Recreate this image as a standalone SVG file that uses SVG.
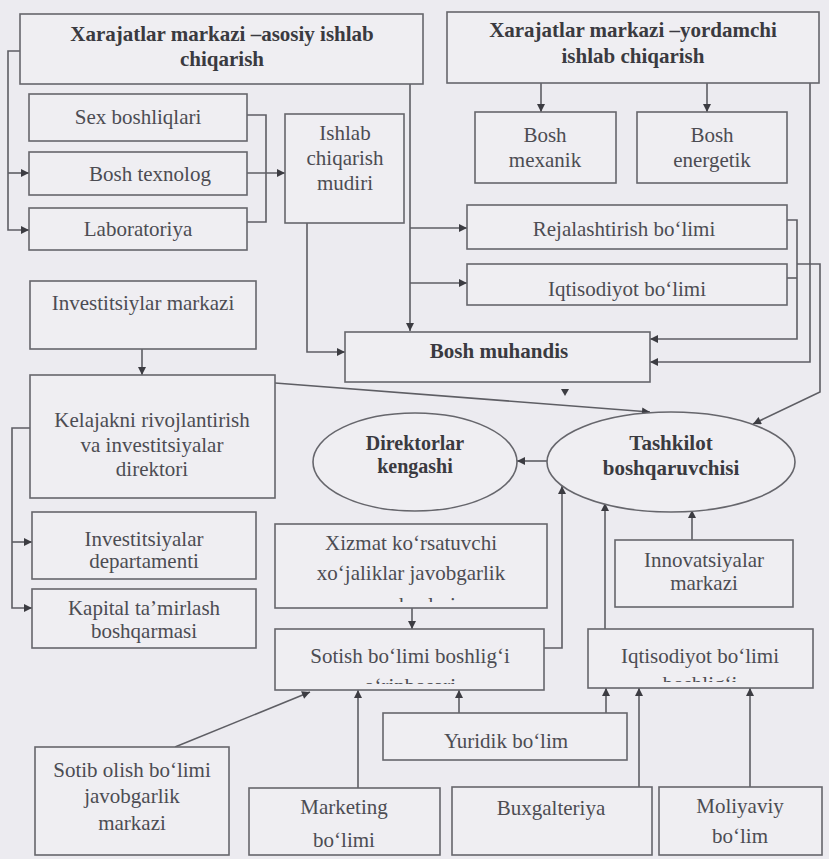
<svg xmlns="http://www.w3.org/2000/svg" width="829" height="859" viewBox="0 0 829 859">
<style>
.bg{fill:#ecebf0}
.box{fill:#efeef2;stroke:#66666c;stroke-width:1.6}
text{font-family:'Liberation Serif','Times New Roman',Times,serif;font-size:21px;text-anchor:middle}
.t{fill:#4c4c52}
.b{font-weight:bold;fill:#3a3a40}
.c{fill:none;stroke:#5e5e64;stroke-width:1.6}
</style>
<defs>
<marker id="ah" viewBox="0 0 10 10" refX="10" refY="5" markerWidth="9" markerHeight="8" orient="auto" markerUnits="userSpaceOnUse"><path d="M0,0 L10,5 L0,10 z" fill="#3c3c42"/></marker>
<clipPath id="clipX"><rect x="276" y="525" width="270" height="77"/></clipPath>
<clipPath id="clipS"><rect x="276" y="630" width="267" height="54"/></clipPath>
<clipPath id="clipI"><rect x="589" y="630" width="223" height="52"/></clipPath>
</defs>
<rect class="bg" x="0" y="0" width="829" height="859"/>

<g id="connectors">
<polyline class="c" points="20,51 8,51 8,230 29,230" marker-end="url(#ah)"/>
<polyline class="c" points="8,173 29,173" marker-end="url(#ah)"/>
<polyline class="c" points="247,115 266,115 266,222 247,222"/>
<polyline class="c" points="247,173 285,173" marker-end="url(#ah)"/>
<polyline class="c" points="410,84 410,331" marker-end="url(#ah)"/>
<polyline class="c" points="410,228 467,228" marker-end="url(#ah)"/>
<polyline class="c" points="410,283 467,283" marker-end="url(#ah)"/>
<polyline class="c" points="307,223 307,352 345,352" marker-end="url(#ah)"/>
<polyline class="c" points="541,83 541,112" marker-end="url(#ah)"/>
<polyline class="c" points="707,83 707,112" marker-end="url(#ah)"/>
<polyline class="c" points="787,220 797,220 797,339 650,339" marker-end="url(#ah)"/>
<polyline class="c" points="787,278 797,278"/>
<polyline class="c" points="810,83 810,362 650,362" marker-end="url(#ah)"/>
<polyline class="c" points="797,264 820,264 820,392 753,424" marker-end="url(#ah)"/>
<polyline class="c" points="275,383 650,412" marker-end="url(#ah)"/>
<path d="M561,389 L569,389 L565,396 z" fill="#3c3c42"/>
<polyline class="c" points="142,349 142,375" marker-end="url(#ah)"/>
<polyline class="c" points="30,428 12,428 12,608 32,608" marker-end="url(#ah)"/>
<polyline class="c" points="12,542 32,542" marker-end="url(#ah)"/>
<polyline class="c" points="547,461 517,461" marker-end="url(#ah)"/>
<polyline class="c" points="412,608 412,629" marker-end="url(#ah)"/>
<polyline class="c" points="544,648 562,648 562,486" marker-end="url(#ah)"/>
<polyline class="c" points="692,540 692,510" marker-end="url(#ah)"/>
<polyline class="c" points="605,629 605,503" marker-end="url(#ah)"/>
<polyline class="c" points="175,747 310,692" marker-end="url(#ah)"/>
<polyline class="c" points="358,788 358,690" marker-end="url(#ah)"/>
<polyline class="c" points="459,713 459,690" marker-end="url(#ah)"/>
<polyline class="c" points="606,713 606,688" marker-end="url(#ah)"/>
<polyline class="c" points="639,787 639,688" marker-end="url(#ah)"/>
<polyline class="c" points="750,787 750,688" marker-end="url(#ah)"/>
</g>

<g id="asosiy"><rect class="box" x="20" y="14" width="403" height="70"/>
<text class="b" x="222" y="41">Xarajatlar markazi –asosiy ishlab</text>
<text class="b" x="222" y="66">chiqarish</text></g>

<g id="yordamchi"><rect class="box" x="447" y="12" width="372" height="71"/>
<text class="b" x="633" y="37">Xarajatlar markazi –yordamchi</text>
<text class="b" x="633" y="63">ishlab chiqarish</text></g>

<g id="sex"><rect class="box" x="29" y="94" width="218" height="47"/>
<text class="t" x="138" y="124">Sex boshliqlari</text></g>
<g id="texnolog"><rect class="box" x="29" y="152" width="218" height="43"/>
<text class="t" x="150" y="181">Bosh texnolog</text></g>
<g id="laboratoriya"><rect class="box" x="29" y="208" width="218" height="42"/>
<text class="t" x="138" y="236">Laboratoriya</text></g>

<g id="ishlab"><rect class="box" x="285" y="114" width="119" height="109"/>
<text class="t" x="345" y="140">Ishlab</text>
<text class="t" x="345" y="165">chiqarish</text>
<text class="t" x="345" y="190">mudiri</text></g>

<g id="mexanik"><rect class="box" x="475" y="112" width="141" height="71"/>
<text class="t" x="545" y="142">Bosh</text>
<text class="t" x="545" y="167">mexanik</text></g>
<g id="energetik"><rect class="box" x="637" y="112" width="150" height="71"/>
<text class="t" x="712" y="142">Bosh</text>
<text class="t" x="712" y="167">energetik</text></g>

<g id="rejalashtirish"><rect class="box" x="467" y="205" width="320" height="44"/>
<text class="t" x="624" y="236">Rejalashtirish boʻlimi</text></g>
<g id="iqtisodiyot"><rect class="box" x="467" y="264" width="320" height="41"/>
<text class="t" x="627" y="296">Iqtisodiyot boʻlimi</text></g>

<g id="muhandis"><rect class="box" x="345" y="332" width="305" height="50"/>
<text class="b" x="499" y="358">Bosh muhandis</text></g>

<g id="investitsiylar"><rect class="box" x="30" y="281" width="226" height="68"/>
<text class="t" x="143" y="310">Investitsiylar markazi</text></g>

<g id="kelajakni"><rect class="box" x="30" y="375" width="245" height="123"/>
<text class="t" x="152" y="427">Kelajakni rivojlantirish</text>
<text class="t" x="152" y="452">va investitsiyalar</text>
<text class="t" x="152" y="476">direktori</text></g>

<g id="direktorlar"><ellipse class="box" cx="415" cy="462" rx="102" ry="49"/>
<text class="b" x="415" y="450" style="font-size:20px">Direktorlar</text>
<text class="b" x="415" y="473" style="font-size:20px">kengashi</text></g>

<g id="tashkilot"><ellipse class="box" cx="671" cy="462" rx="124" ry="50"/>
<text class="b" x="671" y="450">Tashkilot</text>
<text class="b" x="671" y="475">boshqaruvchisi</text></g>

<g id="departamenti"><rect class="box" x="32" y="512" width="224" height="67"/>
<text class="t" x="144" y="546">Investitsiyalar</text>
<text class="t" x="144" y="568">departamenti</text></g>
<g id="kapital"><rect class="box" x="32" y="589" width="224" height="59"/>
<text class="t" x="144" y="615">Kapital taʼmirlash</text>
<text class="t" x="144" y="638">boshqarmasi</text></g>

<g id="xizmat"><rect class="box" x="275" y="524" width="272" height="84"/>
<text class="t" x="411" y="550">Xizmat koʻrsatuvchi</text>
<text class="t" x="411" y="580">xoʻjaliklar javobgarlik</text>
<text class="t" x="411" y="612" clip-path="url(#clipX)">markazlari</text></g>

<g id="sotish"><rect class="box" x="275" y="629" width="269" height="61"/>
<text class="t" x="410" y="663">Sotish boʻlimi boshligʻi</text>
<text class="t" x="410" y="693" clip-path="url(#clipS)">oʻrinbosari</text></g>

<g id="innovatsiyalar"><rect class="box" x="615" y="540" width="178" height="67"/>
<text class="t" x="704" y="567">Innovatsiyalar</text>
<text class="t" x="704" y="590">markazi</text></g>

<g id="iqtboshligi"><rect class="box" x="588" y="629" width="225" height="59"/>
<text class="t" x="700" y="663">Iqtisodiyot boʻlimi</text>
<text class="t" x="700" y="691" clip-path="url(#clipI)">boshligʻi</text></g>

<g id="yuridik"><rect class="box" x="383" y="713" width="244" height="47"/>
<text class="t" x="506" y="748">Yuridik boʻlim</text></g>

<g id="sotibolish"><rect class="box" x="35" y="747" width="194" height="108"/>
<text class="t" x="132" y="777">Sotib olish boʻlimi</text>
<text class="t" x="132" y="803">javobgarlik</text>
<text class="t" x="132" y="830">markazi</text></g>

<g id="marketing"><rect class="box" x="249" y="788" width="191" height="67"/>
<text class="t" x="344" y="814">Marketing</text>
<text class="t" x="344" y="847">boʻlimi</text></g>

<g id="buxgalteriya"><rect class="box" x="452" y="787" width="200" height="68"/>
<text class="t" x="551" y="815">Buxgalteriya</text></g>

<g id="moliyaviy"><rect class="box" x="659" y="787" width="163" height="68"/>
<text class="t" x="740" y="813">Moliyaviy</text>
<text class="t" x="740" y="843">boʻlim</text></g>
</svg>
